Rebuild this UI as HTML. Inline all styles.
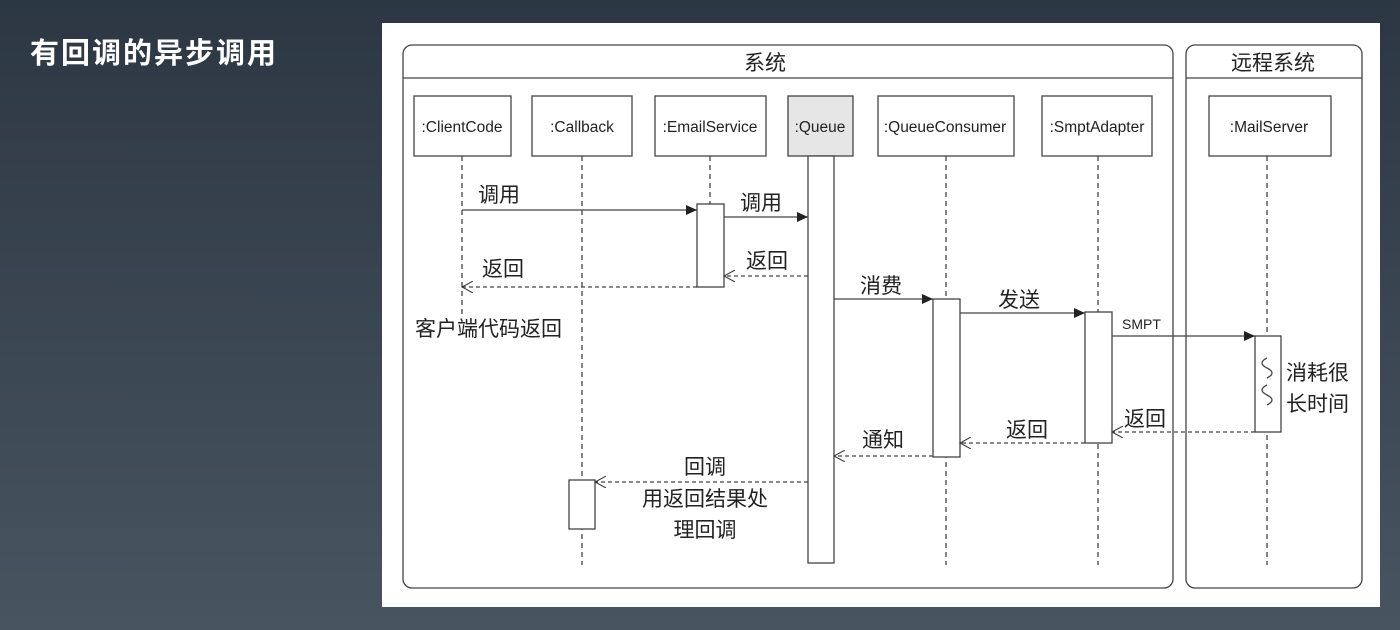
<!DOCTYPE html>
<html><head><meta charset="utf-8"><style>
body{margin:0;width:1400px;height:630px;overflow:hidden;background:linear-gradient(#2c3743,#48545f);font-family:"Liberation Sans","Noto Sans CJK SC",sans-serif}
.t{position:absolute;left:30px;top:30px;color:#fff;font-size:29px;letter-spacing:2px;font-weight:bold;font-family:"Liberation Sans","Noto Sans CJK SC",sans-serif}
.p{position:absolute;left:382px;top:23px;width:998px;height:584px;background:#fff}
</style></head><body>
<div class="t">有回调的异步调用</div>
<div class="p"></div>
<svg width="1400" height="630" style="position:absolute;left:0;top:0" font-family="Liberation Sans, Noto Sans CJK SC, sans-serif">
<defs>
<marker id="f" markerWidth="12" markerHeight="10" refX="11" refY="5" orient="auto" markerUnits="userSpaceOnUse"><path d="M0,0 L11,5 L0,10z" fill="#222"/></marker>
<marker id="o" markerWidth="12" markerHeight="12" refX="11" refY="6" orient="auto" markerUnits="userSpaceOnUse"><path d="M0,0 L11,6 L0,12" fill="none" stroke="#333"/></marker>
</defs>
<g fill="none" stroke="#444" stroke-width="1.3">
<rect x="403" y="45" width="770" height="543" rx="9"/><line x1="403" y1="78" x2="1173" y2="78"/>
<rect x="1186" y="45" width="176" height="543" rx="9"/><line x1="1186" y1="78" x2="1362" y2="78"/>
<rect x="414" y="96" width="97" height="60"/>
<rect x="532" y="96" width="100" height="60"/>
<rect x="655" y="96" width="111" height="60"/>
<rect x="788" y="96" width="65" height="60" fill="#e6e6e6"/>
<rect x="878" y="96" width="136" height="60"/>
<rect x="1042" y="96" width="110" height="60"/>
<rect x="1209" y="96" width="122" height="60"/>
<g stroke-dasharray="5,4">
<line x1="462" y1="156" x2="462" y2="318"/>
<line x1="582" y1="156" x2="582" y2="565"/>
<line x1="710" y1="156" x2="710" y2="204"/>
<line x1="946" y1="156" x2="946" y2="565"/>
<line x1="1098" y1="156" x2="1098" y2="565"/>
<line x1="1267" y1="156" x2="1267" y2="565"/>
</g>
<rect x="808" y="156" width="26" height="407" fill="#fff"/>
<rect x="697" y="204" width="27" height="83" fill="#fff"/>
<rect x="933" y="299" width="27" height="158" fill="#fff"/>
<rect x="1085" y="312" width="27" height="131" fill="#fff"/>
<rect x="1255" y="336" width="26" height="96" fill="#fff"/>
<rect x="569" y="480" width="26" height="49" fill="#fff"/>
<path d="M1267,358 q-10,5 0,10 q10,5 0,10 M1267,385 q-10,5 0,10 q10,5 0,10"/>
<line x1="462" y1="210" x2="697" y2="210" marker-end="url(#f)"/>
<line x1="724" y1="217" x2="808" y2="217" marker-end="url(#f)"/>
<line x1="834" y1="299" x2="933" y2="299" marker-end="url(#f)"/>
<line x1="960" y1="313" x2="1085" y2="313" marker-end="url(#f)"/>
<line x1="1112" y1="336" x2="1255" y2="336" marker-end="url(#f)"/>
<g stroke-dasharray="4,3">
<line x1="808" y1="276" x2="724" y2="276" marker-end="url(#o)"/>
<line x1="697" y1="287" x2="462" y2="287" marker-end="url(#o)"/>
<line x1="1255" y1="432" x2="1112" y2="432" marker-end="url(#o)"/>
<line x1="1085" y1="443" x2="960" y2="443" marker-end="url(#o)"/>
<line x1="933" y1="456" x2="834" y2="456" marker-end="url(#o)"/>
<line x1="808" y1="482" x2="595" y2="482" marker-end="url(#o)"/>
</g>
</g>
<g fill="#222" font-size="15.5" text-anchor="middle">
<text x="462" y="132">:ClientCode</text><text x="582" y="132">:Callback</text><text x="710" y="132">:EmailService</text><text x="820" y="132">:Queue</text><text x="945" y="132">:QueueConsumer</text><text x="1097" y="132">:SmptAdapter</text><text x="1269" y="132">:MailServer</text>
</g>
<g fill="#222" font-size="21">
<text x="765" y="70" text-anchor="middle">系统</text>
<text x="1273" y="70" text-anchor="middle">远程系统</text>
<text x="478" y="202">调用</text><text x="740" y="210">调用</text>
<text x="746" y="268">返回</text><text x="482" y="276">返回</text>
<text x="415" y="336">客户端代码返回</text>
<text x="860" y="293">消费</text><text x="998" y="307">发送</text>
<text x="1122" y="329" font-size="14">SMPT</text>
<text x="1286" y="380">消耗很</text><text x="1286" y="411">长时间</text>
<text x="1124" y="426">返回</text><text x="1006" y="437">返回</text><text x="862" y="447">通知</text>
<text x="705" y="474" text-anchor="middle">回调</text>
<text x="705" y="506" text-anchor="middle">用返回结果处</text>
<text x="705" y="537" text-anchor="middle">理回调</text>
</g>
</svg>
</body></html>
